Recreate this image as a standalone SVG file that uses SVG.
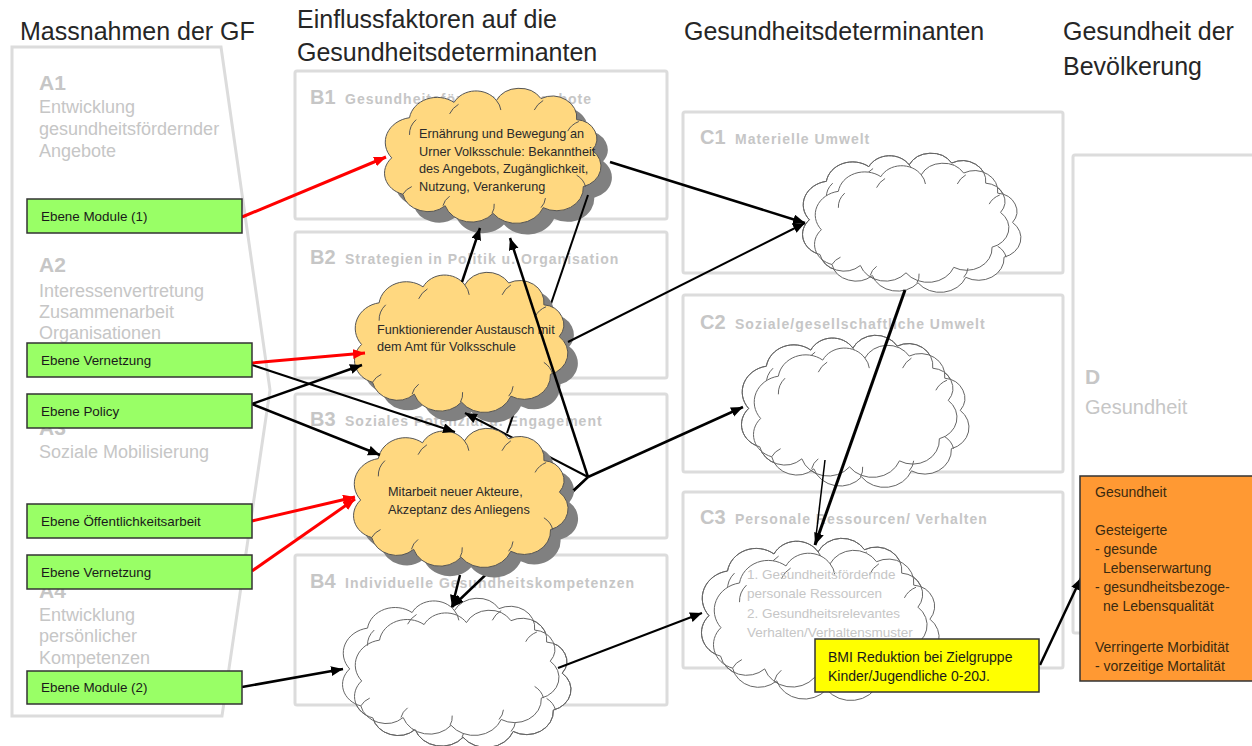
<svg xmlns="http://www.w3.org/2000/svg" xmlns:xlink="http://www.w3.org/1999/xlink" width="1252" height="746" viewBox="0 0 1252 746">
<style>
text{font-family:"Liberation Sans",Arial,sans-serif}
.hdr{font-size:25px;fill:#262626}
.box{fill:#fff;stroke:#dcdcdc;stroke-width:3}
.big{font-weight:bold;font-size:20px;fill:#c6c6c6}
.lbl{font-weight:bold;font-size:14px;letter-spacing:1px;fill:#c6c6c6}
.abig{font-weight:bold;font-size:21px;fill:#c6c6c6}
.atxt{font-size:18px;fill:#c6c6c6}
.green{fill:#99ff66;stroke:#333;stroke-width:1.5}
.gtxt{font-size:13.4px;fill:#1a1a1a}
.ctxt{font-size:12.7px;fill:#2a2a2a}
.ycloud{fill:#ffd880;stroke:#555;stroke-width:1}
.shadow{fill:#808080;stroke:none}
.wcloud{fill:#fff;stroke:#666;stroke-width:1}
.wline{fill:none;stroke:#666;stroke-width:1}
.cin{fill:none}
.red{fill:none;stroke:#f00;stroke-width:3;marker-end:url(#ar)}
.blk{fill:none;stroke:#000;stroke-width:2.5;marker-end:url(#ab)}
.blkm{fill:none;stroke:#000;stroke-width:2;marker-end:url(#ab)}
.thin{fill:none;stroke:#000;stroke-width:1.5}
.otxt{font-size:14px;fill:#3a2a10}
.c3txt{font-size:13.5px;fill:#c6c6c6}
</style>
<defs>
<marker id="ab" markerUnits="userSpaceOnUse" markerWidth="13" markerHeight="11" refX="12" refY="5" orient="auto"><path d="M0,0 L12,5 L0,10 Z" fill="#000"/></marker>
<marker id="ar" markerUnits="userSpaceOnUse" markerWidth="13" markerHeight="11" refX="12" refY="5" orient="auto"><path d="M0,0 L12,5 L0,10 Z" fill="#f00"/></marker>
<path id="cloudOutline" vector-effect="non-scaling-stroke" d="M14,70 A26,26 0 0 1 30,28 A25,25 0 0 1 70,12 A22,22 0 0 1 108,10 A23,23 0 0 1 148,8 A22,22 0 0 1 180,30 A20,20 0 0 1 194,62 A22,22 0 0 1 186,100 A24,24 0 0 1 150,122 A26,26 0 0 1 105,128 A25,25 0 0 1 62,120 A23,23 0 0 1 24,108 A23,23 0 0 1 14,70 Z"/>
<g id="cloud">
<use xlink:href="#cloudOutline" href="#cloudOutline"/>
<path class="cin" vector-effect="non-scaling-stroke" d="M30,46 A22,22 0 0 1 36,30 M66,24 A22,22 0 0 1 74,14 M108,10 A20,20 0 0 1 112,20 M142,20 A22,22 0 0 1 150,10 M172,42 A20,20 0 0 1 182,32 M180,88 A20,20 0 0 1 188,100 M152,112 A18,18 0 0 1 148,122 M106,118 A18,18 0 0 1 104,128 M66,110 A18,18 0 0 0 60,120 M32,100 A18,18 0 0 0 24,108"/>
</g>
</defs>
<rect width="1252" height="746" fill="#fff"/>

<g id="headers">
<text class="hdr" x="20" y="40">Massnahmen der GF</text>
<text class="hdr" x="297" y="28">Einflussfaktoren auf die</text>
<text class="hdr" x="297" y="61">Gesundheitsdeterminanten</text>
<text class="hdr" x="684" y="40">Gesundheitsdeterminanten</text>
<text class="hdr" x="1063" y="40">Gesundheit der</text>
<text class="hdr" x="1063" y="75">Bevölkerung</text>
</g>

<g id="panel-A">
<polygon class="box" points="12,47 221,47 270,390 222,716 12,716"/>
<text class="abig" x="39" y="90">A1</text>
<text class="atxt" x="39" y="113">Entwicklung</text>
<text class="atxt" x="39" y="135">gesundheitsfördernder</text>
<text class="atxt" x="39" y="157">Angebote</text>
<text class="abig" x="39" y="272">A2</text>
<text class="atxt" x="39" y="297">Interessenvertretung</text>
<text class="atxt" x="39" y="318">Zusammenarbeit</text>
<text class="atxt" x="39" y="339">Organisationen</text>
<text class="abig" x="39" y="435">A3</text>
<text class="atxt" x="39" y="458">Soziale Mobilisierung</text>
<text class="abig" x="39" y="598">A4</text>
<text class="atxt" x="39" y="621">Entwicklung</text>
<text class="atxt" x="39" y="642">persönlicher</text>
<text class="atxt" x="39" y="664">Kompetenzen</text>
</g>

<g id="box-B1"><rect class="box" x="295" y="71" width="372" height="148" rx="2"/>
<text x="310" y="104"><tspan class="big">B1</tspan><tspan class="lbl" x="345">Gesundheitsfördernde Angebote</tspan></text></g>
<g id="box-B2"><rect class="box" x="295" y="232" width="372" height="146" rx="2"/>
<text x="310" y="264"><tspan class="big">B2</tspan><tspan class="lbl" x="345">Strategien in Politik u. Organisation</tspan></text></g>
<g id="box-B3"><rect class="box" x="295" y="394" width="372" height="144" rx="2"/>
<text x="310" y="426"><tspan class="big">B3</tspan><tspan class="lbl" x="345">Soziales Potenzial u. Engagement</tspan></text></g>
<g id="box-B4"><rect class="box" x="295" y="555" width="372" height="150" rx="2"/>
<text x="310" y="588"><tspan class="big">B4</tspan><tspan class="lbl" x="345">Individuelle Gesundheitskompetenzen</tspan></text></g>

<g id="box-C1"><rect class="box" x="683" y="112" width="380" height="161" rx="2"/>
<text x="700" y="144"><tspan class="big">C1</tspan><tspan class="lbl" x="735">Materielle Umwelt</tspan></text></g>
<g id="box-C2"><rect class="box" x="683" y="295" width="380" height="177" rx="2"/>
<text x="700" y="329"><tspan class="big">C2</tspan><tspan class="lbl" x="735">Soziale/gesellschaftliche Umwelt</tspan></text></g>
<g id="box-C3"><rect class="box" x="683" y="492" width="380" height="176" rx="2"/>
<text x="700" y="524"><tspan class="big">C3</tspan><tspan class="lbl" x="735">Personale Ressourcen/ Verhalten</tspan></text></g>

<g id="box-D"><rect class="box" x="1073" y="155" width="200" height="478" rx="2"/>
<text class="abig" x="1085" y="384">D</text>
<text class="atxt" x="1085" y="414" style="font-size:20px">Gesundheit</text></g>

<!-- clouds and connectors interleaved for stacking -->
<g id="cloud-B1">
<use xlink:href="#cloudOutline" href="#cloudOutline" class="shadow" transform="translate(387,102) scale(1.114,0.957)"/>
<use xlink:href="#cloud" href="#cloud" class="ycloud" transform="translate(376.1,90.9) scale(1.114,0.957)"/>
<text class="ctxt" x="419" y="138">Ernährung und Bewegung an</text>
<text class="ctxt" x="419" y="156">Urner Volksschule: Bekanntheit</text>
<text class="ctxt" x="419" y="173">des Angebots, Zugänglichkeit,</text>
<text class="ctxt" x="419" y="191">Nutzung, Verankerung</text>
</g>

<g id="connectors-back-1">
<path class="thin" style="stroke-width:2" d="M588,195 L507,433"/>
</g>

<g id="cloud-B2">
<use xlink:href="#cloudOutline" href="#cloudOutline" class="shadow" transform="translate(356.2,285) scale(1.098,0.993)"/>
<use xlink:href="#cloud" href="#cloud" class="ycloud" transform="translate(346.2,275) scale(1.098,0.993)"/>
<text class="ctxt" x="377" y="334">Funktionierender Austausch mit</text>
<text class="ctxt" x="377" y="351">dem Amt für Volksschule</text>
</g>

<g id="connectors-back-2">
<path class="blkm" d="M588,477 L465,413"/>
<path class="blk" d="M588,477 L452,607"/>
</g>

<g id="cloud-B3">
<use xlink:href="#cloudOutline" href="#cloudOutline" class="shadow" transform="translate(355.2,441) scale(1.104,0.986)"/>
<use xlink:href="#cloud" href="#cloud" class="ycloud" transform="translate(345.2,431) scale(1.104,0.986)"/>
<text class="ctxt" x="388" y="496">Mitarbeit neuer Akteure,</text>
<text class="ctxt" x="388" y="514">Akzeptanz des Anliegens</text>
</g>

<g id="cloud-B4">
<use xlink:href="#cloud" href="#cloud" class="wcloud" transform="translate(346.1,612.9) scale(1.114,0.972)"/>
<use xlink:href="#cloud" href="#cloud" class="wcloud" transform="translate(334.1,600.9) scale(1.114,0.972)"/>
<use xlink:href="#cloudOutline" href="#cloudOutline" class="wline" transform="translate(346.1,612.9) scale(1.114,0.972)"/>
</g>

<g id="cloud-C1">
<use xlink:href="#cloud" href="#cloud" class="wcloud" transform="translate(794.5,155.7) scale(1.062,0.915)"/>
<use xlink:href="#cloud" href="#cloud" class="wcloud" transform="translate(806.5,165.7) scale(1.062,0.915)"/>
<use xlink:href="#cloudOutline" href="#cloudOutline" class="wline" transform="translate(794.5,155.7) scale(1.062,0.915)"/>
</g>

<g id="cloud-C2">
<use xlink:href="#cloud" href="#cloud" class="wcloud" transform="translate(733.1,338) scale(1.109,1.007)"/>
<use xlink:href="#cloud" href="#cloud" class="wcloud" transform="translate(745.1,348) scale(1.109,1.007)"/>
<use xlink:href="#cloudOutline" href="#cloudOutline" class="wline" transform="translate(733.1,338) scale(1.109,1.007)"/>
</g>

<g id="cloud-C3">
<use xlink:href="#cloud" href="#cloud" class="wcloud" transform="translate(692.7,541.2) scale(1.161,1.064)"/>
<use xlink:href="#cloud" href="#cloud" class="wcloud" transform="translate(704.7,553.2) scale(1.161,1.064)"/>
<use xlink:href="#cloudOutline" href="#cloudOutline" class="wline" transform="translate(692.7,541.2) scale(1.161,1.064)"/>
<text class="c3txt" x="747" y="579">1. Gesundheitsfördernde</text>
<text class="c3txt" x="747" y="598">personale Ressourcen</text>
<text class="c3txt" x="747" y="618">2. Gesundheitsrelevantes</text>
<text class="c3txt" x="747" y="637">Verhalten/Verhaltensmuster</text>
</g>

<g id="connectors">
<path class="red" d="M242,217 L386,157"/>
<path class="red" d="M252,363 L365,353"/>
<path class="red" d="M252,521 L355,497"/>
<path class="red" d="M252,571 L355,499"/>
<path class="blk" d="M252,404 L362,365"/>
<path class="blk" d="M252,404 L380,455"/>
<path class="blkm" d="M252,365 L455,432"/>
<path class="blk" d="M242,687 L343,669"/>
<path class="blk" d="M462,282 L480,228"/>
<path class="blk" d="M588,477 L510,238"/>
<path class="blk" d="M588,477 L743,407"/>
<path class="thin" d="M573,490 L588,477"/>
<path class="blk" d="M610,162 L805,223"/>
<path class="blkm" d="M568,342 L805,223"/>
<path class="blkm" d="M558,668 L702,613"/>
<path class="blk" style="stroke-width:3" d="M905,290 L815,545"/>
<path class="thin" d="M825,460 L815,545"/>
<path class="blk" d="M1040,665 L1081,578"/>
<path class="blk" d="M460,575 L452,607"/>
</g>

<g id="node-ebene-module-1"><rect class="green" x="27" y="199" width="215" height="34"/><text class="gtxt" x="41" y="221">Ebene Module (1)</text></g>
<g id="node-ebene-vernetzung-1"><rect class="green" x="27" y="343" width="225" height="34"/><text class="gtxt" x="41" y="365">Ebene Vernetzung</text></g>
<g id="node-ebene-policy"><rect class="green" x="27" y="394" width="225" height="34"/><text class="gtxt" x="41" y="416">Ebene Policy</text></g>
<g id="node-ebene-oeffentlichkeitsarbeit"><rect class="green" x="27" y="504" width="225" height="34"/><text class="gtxt" x="41" y="526">Ebene Öffentlichkeitsarbeit</text></g>
<g id="node-ebene-vernetzung-2"><rect class="green" x="27" y="555" width="225" height="34"/><text class="gtxt" x="41" y="577">Ebene Vernetzung</text></g>
<g id="node-ebene-module-2"><rect class="green" x="27" y="671" width="215" height="33"/><text class="gtxt" x="41" y="692">Ebene Module (2)</text></g>

<g id="node-bmi"><rect x="815" y="639" width="224" height="53" fill="#ffff00" stroke="#333" stroke-width="1.5"/>
<text class="otxt" x="828" y="662" style="fill:#1a1a1a">BMI Reduktion bei Zielgruppe</text>
<text class="otxt" x="828" y="681" style="fill:#1a1a1a">Kinder/Jugendliche 0-20J.</text></g>

<g id="node-gesundheit"><rect x="1080" y="476" width="190" height="205" fill="#ff9933" stroke="#333" stroke-width="1.5"/>
<text class="otxt" x="1095" y="497">Gesundheit</text>
<text class="otxt" x="1095" y="535">Gesteigerte</text>
<text class="otxt" x="1095" y="554">- gesunde</text>
<text class="otxt" x="1103" y="573">Lebenserwartung</text>
<text class="otxt" x="1095" y="592">- gesundheitsbezoge-</text>
<text class="otxt" x="1103" y="611">ne Lebensqualität</text>
<text class="otxt" x="1095" y="652">Verringerte Morbidität</text>
<text class="otxt" x="1095" y="671">- vorzeitige Mortalität</text></g>
</svg>
